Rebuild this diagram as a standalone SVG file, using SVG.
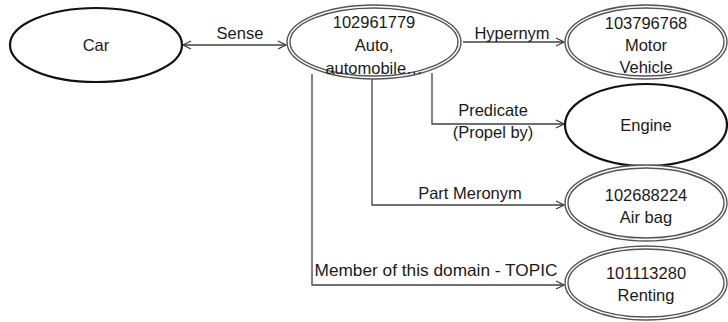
<svg xmlns="http://www.w3.org/2000/svg" width="728" height="322" viewBox="0 0 728 322">
<defs>
<marker id="arr" viewBox="0 0 10 10" refX="9" refY="5" markerWidth="10" markerHeight="10" markerUnits="userSpaceOnUse" orient="auto-start-reverse">
<path d="M1,1 L9,5 L1,9" fill="none" stroke="#404040" stroke-width="1.3"/>
</marker>
</defs>
<style>
text{font-family:"Liberation Sans",Arial,sans-serif;font-size:16.5px;fill:#1a1a1a;text-anchor:middle}
.single{fill:#fff;stroke:#111;stroke-width:2.2}
.dbl{fill:#fff;stroke:#555;stroke-width:1.4}
.ln{fill:none;stroke:#404040;stroke-width:1.3}
</style>
<g id="connectors">
<line class="ln" x1="183" y1="45" x2="286" y2="45" marker-start="url(#arr)" marker-end="url(#arr)"/>
<text x="240" y="39">Sense</text>
<line class="ln" x1="463" y1="42" x2="564" y2="42" marker-end="url(#arr)"/>
<text x="512" y="39">Hypernym</text>
<polyline class="ln" points="432,73 432,124 564,124" marker-end="url(#arr)"/>
<text x="493" y="116">Predicate</text>
<text x="493" y="138">(Propel by)</text>
<polyline class="ln" points="372,78 372,205 564,205" marker-end="url(#arr)"/>
<text x="470" y="199">Part Meronym</text>
<polyline class="ln" points="312,74 312,285 564,285" marker-end="url(#arr)"/>
<text x="436" y="276" textLength="243" lengthAdjust="spacingAndGlyphs">Member of this domain - TOPIC</text>
</g>
<g id="car">
<ellipse class="single" cx="96" cy="45" rx="86" ry="37"/>
<text x="96" y="51">Car</text>
</g>
<g id="auto">
<ellipse class="dbl" cx="374" cy="42" rx="87" ry="37"/>
<ellipse class="dbl" cx="374" cy="42" rx="84" ry="34"/>
<text x="374" y="28">102961779</text>
<text x="374" y="51">Auto,</text>
<text x="374" y="74">automobile…</text>
</g>
<g id="motor">
<ellipse class="dbl" cx="646" cy="42" rx="81" ry="37"/>
<ellipse class="dbl" cx="646" cy="42" rx="78" ry="34"/>
<text x="646" y="29">103796768</text>
<text x="646" y="51">Motor</text>
<text x="646" y="73">Vehicle</text>
</g>
<g id="engine">
<ellipse class="single" cx="646" cy="125" rx="81" ry="41"/>
<text x="646" y="131">Engine</text>
</g>
<g id="airbag">
<ellipse class="dbl" cx="646" cy="203" rx="81" ry="38"/>
<ellipse class="dbl" cx="646" cy="203" rx="78" ry="35"/>
<text x="646" y="201">102688224</text>
<text x="646" y="223">Air bag</text>
</g>
<g id="renting">
<ellipse class="dbl" cx="646" cy="283" rx="81" ry="37"/>
<ellipse class="dbl" cx="646" cy="283" rx="78" ry="34"/>
<text x="646" y="279">101113280</text>
<text x="646" y="301">Renting</text>
</g>
</svg>
